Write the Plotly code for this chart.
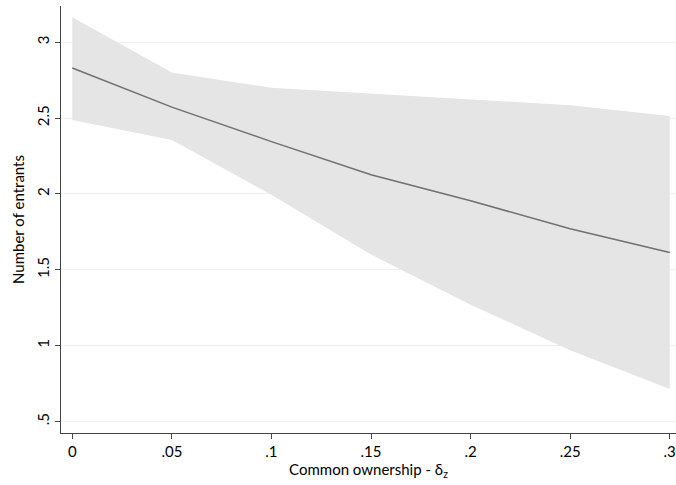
import plotly.graph_objects as go

delta = [0, 0.05, 0.10, 0.15, 0.20, 0.25, 0.30]
entrants = [2.83, 2.572, 2.345, 2.126, 1.955, 1.77, 1.614]
upper_ci = [3.165, 2.80, 2.70, 2.66, 2.625, 2.585, 2.514]
lower_ci = [2.488, 2.356, 1.994, 1.60, 1.27, 0.97, 0.714]

x_ticks = [0, 0.05, 0.1, 0.15, 0.2, 0.25, 0.3]
x_labels = ["0", ".05", ".1", ".15", ".2", ".25", ".3"]
y_ticks = [0.5, 1, 1.5, 2, 2.5, 3]
y_labels = [".5", "1", "1.5", "2", "2.5", "3"]

FONT = "Lato, Open Sans, sans-serif"

fig = go.Figure()
fig.add_trace(go.Scatter(x=delta, y=upper_ci, mode="lines", line=dict(width=0),
                         hoverinfo="skip", showlegend=False))
fig.add_trace(go.Scatter(x=delta, y=lower_ci, mode="lines", line=dict(width=0),
                         fill="tonexty", fillcolor="#e5e5e5", hoverinfo="skip",
                         showlegend=False))
fig.add_trace(go.Scatter(x=delta, y=entrants, mode="lines",
                         line=dict(color="#707070", width=1.5), showlegend=False))

fig.update_layout(
    width=676, height=485,
    margin=dict(l=61, r=0, t=6, b=52),
    paper_bgcolor="white", plot_bgcolor="white",
    font=dict(family=FONT, size=15, color="black"),
)
fig.update_xaxes(
    range=[-0.00567, 0.30316],
    tickvals=x_ticks, ticktext=x_labels,
    showgrid=False, zeroline=False,
    showline=True, linecolor="#444444", linewidth=1,
    ticks="outside", ticklen=5, tickcolor="#444444",
    title=dict(text="Common ownership - δ<sub>z</sub>", font=dict(size=15), standoff=3),
    tickfont=dict(size=15),
)
fig.update_yaxes(
    range=[0.4236, 3.239],
    tickvals=y_ticks, ticktext=y_labels,
    showgrid=True, gridcolor="#eaf2f3", gridwidth=1, zeroline=False,
    showline=True, linecolor="#444444", linewidth=1,
    ticks="outside", ticklen=5, tickcolor="#444444",
    tickangle=-90,
    title=dict(text="Number of entrants", font=dict(size=15), standoff=5),
    tickfont=dict(size=15),
)

fig.write_html("out.html")
